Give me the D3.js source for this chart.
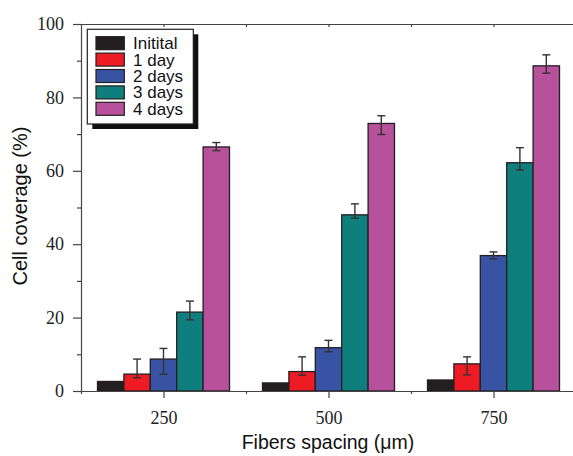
<!DOCTYPE html>
<html><head><meta charset="utf-8">
<script src="https://cdn.jsdelivr.net/npm/d3@7"></script>
<style>body{margin:0;background:#fff}svg{display:block}</style>
</head><body>
<script>
const categories = [250, 500, 750];
const seriesNames = ["Initital", "1 day", "2 days", "3 days", "4 days"];
const colors = ["#231f20", "#ed1c24", "#3953a4", "#0e7f7c", "#b8519b"];
const initital = [2.6, 2.2, 3.0];
const day1 = [4.6, 5.3, 7.4];
const day2 = [8.7, 11.8, 36.9];
const day3 = [21.5, 48.0, 62.2];
const day4 = [66.5, 72.9, 88.6];
// whisker ends (upper / lower)
const day1Hi = [8.7, 9.3, 9.3], day1Lo = [3.6, 4.3, 4.4];
const day2Hi = [11.6, 13.8, 37.9], day2Lo = [4.6, 10.7, 36.0];
const day3Hi = [24.5, 51.0, 66.3], day3Lo = [19.4, 47.1, 60.2];
const day4Hi = [67.7, 75.0, 91.6], day4Lo = [65.5, 69.9, 86.6];
const yTicks = [0, 20, 40, 60, 80, 100];

const values = [initital, day1, day2, day3, day4];
const hi = [null, day1Hi, day2Hi, day3Hi, day4Hi];
const lo = [null, day1Lo, day2Lo, day3Lo, day4Lo];

const W = 573, H = 456;
const svg = d3.select("body").append("svg").attr("width", W).attr("height", H);
const x = d3.scaleLinear().domain([125, 875]).range([81, 576]);
const y = d3.scaleLinear().domain([0, 100]).range([391, 24]);
const barW = 40;
const axisColor = "#444";

// bars
const g = svg.append("g");
categories.forEach((c, ci) => {
  values.forEach((vals, si) => {
    const x0 = x(c + (si - 2.5) * barW), x1 = x(c + (si - 1.5) * barW);
    g.append("rect")
      .attr("x", x0).attr("y", y(vals[ci]))
      .attr("width", x1 - x0).attr("height", y(0) - y(vals[ci]))
      .attr("fill", colors[si]).attr("stroke", "#231f20").attr("stroke-width", 1.3);
  });
});
// error bars
categories.forEach((c, ci) => {
  values.forEach((vals, si) => {
    if (!hi[si]) return;
    const cx = x(c + (si - 2) * barW);
    const yh = y(hi[si][ci]), yl = y(lo[si][ci]);
    const eg = g.append("g").attr("stroke", "#333").attr("stroke-width", 1.4);
    eg.append("line").attr("x1", cx).attr("x2", cx).attr("y1", yh).attr("y2", yl);
    eg.append("line").attr("x1", cx - 4).attr("x2", cx + 4).attr("y1", yh).attr("y2", yh);
    eg.append("line").attr("x1", cx - 4).attr("x2", cx + 4).attr("y1", yl).attr("y2", yl);
  });
});

// y axis
svg.append("g").attr("transform", "translate(81,0)")
  .call(d3.axisLeft(y).tickValues(yTicks).tickSize(8).tickPadding(9).tickFormat(d3.format("d")));
svg.append("g").attr("transform", "translate(81,0)")
  .call(d3.axisLeft(y).tickValues(d3.range(10, 100, 20)).tickSize(4).tickFormat(""))
  .call(a => a.select(".domain").remove());
// x axis
svg.append("g").attr("transform", "translate(0,391)")
  .call(d3.axisBottom(x).tickValues(categories).tickSize(7).tickPadding(13).tickSizeOuter(0).tickFormat(d3.format("d")));
svg.append("g").attr("transform", "translate(0,391)")
  .call(d3.axisBottom(x).tickValues([125, 375, 625, 875]).tickSize(3).tickFormat(""))
  .call(a => a.select(".domain").remove());
// top axis (ticks inward)
svg.append("g").attr("transform", "translate(0,24)")
  .call(d3.axisBottom(x).tickValues([250, 375, 500, 625, 750, 875]).tickSize(3).tickSizeOuter(0).tickFormat(""));

svg.selectAll(".domain, .tick line").attr("stroke", axisColor).attr("stroke-width", 1.2);
svg.selectAll(".tick text").attr("font-family", "Liberation Serif, Times New Roman, serif")
  .attr("font-size", 18).attr("fill", "#222");

// axis titles
svg.append("text").attr("x", 328).attr("y", 449).attr("text-anchor", "middle")
  .attr("font-family", "Liberation Sans, Arial, sans-serif").attr("font-size", 19.5).attr("fill", "#111")
  .text("Fibers spacing (\u03bcm)");
svg.append("text").attr("transform", "translate(27,206) rotate(-90)").attr("text-anchor", "middle")
  .attr("font-family", "Liberation Sans, Arial, sans-serif").attr("font-size", 20).attr("fill", "#111")
  .text("Cell coverage (%)");

// legend
const lg = svg.append("g");
lg.append("rect").attr("x", 92.3).attr("y", 34.3).attr("width", 106).attr("height", 94.7).attr("fill", "#111");
lg.append("rect").attr("x", 87.3).attr("y", 29.3).attr("width", 106).attr("height", 94.7)
  .attr("fill", "#fff").attr("stroke", "#222").attr("stroke-width", 1.2);
seriesNames.forEach((n, i) => {
  const yy = 36.7 + i * 16.4;
  lg.append("rect").attr("x", 96).attr("y", yy).attr("width", 28.3).attr("height", 13)
    .attr("fill", colors[i]).attr("stroke", "#231f20").attr("stroke-width", 1.2);
  lg.append("text").attr("x", 133).attr("y", yy + 12.4)
    .attr("font-family", "Liberation Sans, Arial, sans-serif").attr("font-size", 17).attr("fill", "#111")
    .text(n);
});
</script>
</body></html>
